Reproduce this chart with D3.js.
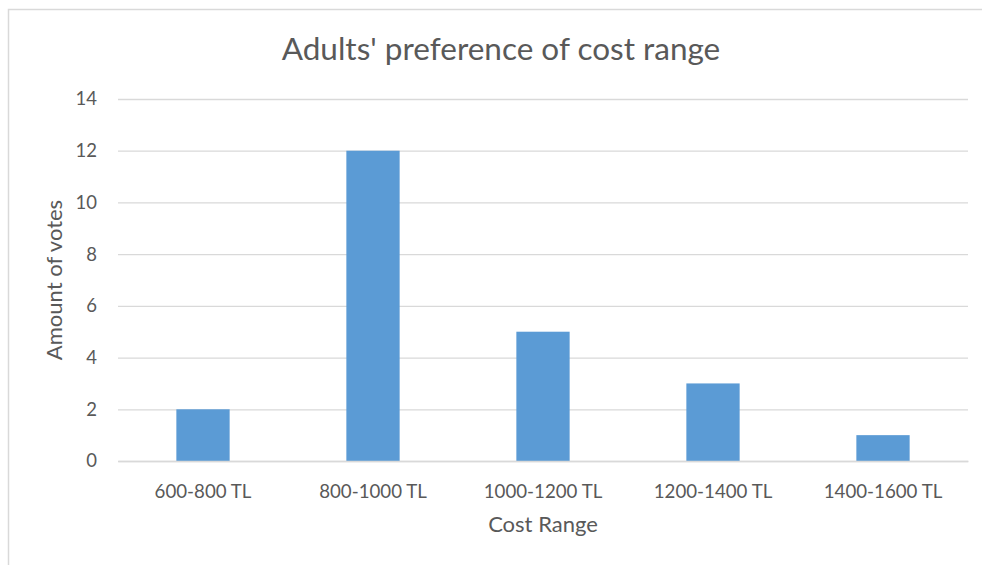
<!DOCTYPE html>
<html>
<head>
<meta charset="utf-8">
<script src="https://cdn.jsdelivr.net/npm/d3@7"></script>
<style>
  html, body { margin: 0; padding: 0; background: #fff; }
  svg { display: block; }
  text { font-family: "Lato", "Open Sans", sans-serif; fill: #595959; }
</style>
</head>
<body>
<svg id="chart" width="982" height="565"></svg>
<script>
// Votes per cost range
const categories = ["600-800 TL", "800-1000 TL", "1000-1200 TL", "1200-1400 TL", "1400-1600 TL"];
const votes = [2, 12, 5, 3, 1];
const yTicks = [0, 2, 4, 6, 8, 10, 12, 14];

const W = 982, H = 565;
const margin = { left: 118, right: 14, top: 99, bottom: 104 };
const svg = d3.select("#chart");

// chart frame (runs past the right and bottom edges)
svg.append("rect")
  .attr("x", 8.5).attr("y", 9.5)
  .attr("width", W + 20).attr("height", H + 20)
  .attr("fill", "#fff").attr("stroke", "#d9d9d9").attr("stroke-width", 1.5);

const xBand = d3.scaleBand().domain(categories).range([margin.left, W - margin.right]);
const barWidth = xBand.bandwidth() / 3.19;

const y = d3.scaleLinear().domain([0, 14]).range([H - margin.bottom, margin.top]);

// gridlines + y labels
const yAxis = d3.axisLeft(y).tickValues(yTicks).tickSize(-(W - margin.right - margin.left)).tickPadding(21);
const gy = svg.append("g").attr("transform", `translate(${margin.left},0)`).call(yAxis);
gy.select(".domain").remove();
gy.selectAll(".tick line").attr("stroke", "#d9d9d9").attr("stroke-width", 1.3);
gy.selectAll(".tick text").attr("font-size", 18.5).attr("fill", "#595959")
  .style("font-family", "Lato, 'Open Sans', sans-serif");

// bars
svg.append("g").selectAll("rect").data(votes).join("rect")
  .attr("x", (d, i) => xBand(categories[i]) + (xBand.bandwidth() - barWidth) / 2)
  .attr("width", barWidth)
  .attr("y", d => y(d))
  .attr("height", d => y(0) - y(d))
  .attr("fill", "#5b9bd5");

// x axis
const xAxis = d3.axisBottom(xBand).tickSize(0).tickPadding(24);
const gx = svg.append("g").attr("transform", `translate(0,${y(0)})`).call(xAxis);
gx.select(".domain").attr("stroke", "#d9d9d9").attr("stroke-width", 1.3);
gx.selectAll(".tick text").attr("font-size", 18.7).attr("fill", "#595959")
  .style("font-family", "Lato, 'Open Sans', sans-serif");

// title
svg.append("text")
  .attr("x", 501).attr("y", 60)
  .attr("text-anchor", "middle")
  .attr("font-size", 31.5)
  .text("Adults' preference of cost range");

// axis titles
svg.append("text")
  .attr("x", (margin.left + W - margin.right) / 2).attr("y", 532)
  .attr("text-anchor", "middle")
  .attr("font-size", 22)
  .text("Cost Range");

svg.append("text")
  .attr("transform", `translate(62,${(y(0) + y(14)) / 2}) rotate(-90)`)
  .attr("text-anchor", "middle")
  .attr("font-size", 22)
  .text("Amount of votes");
</script>
</body>
</html>
